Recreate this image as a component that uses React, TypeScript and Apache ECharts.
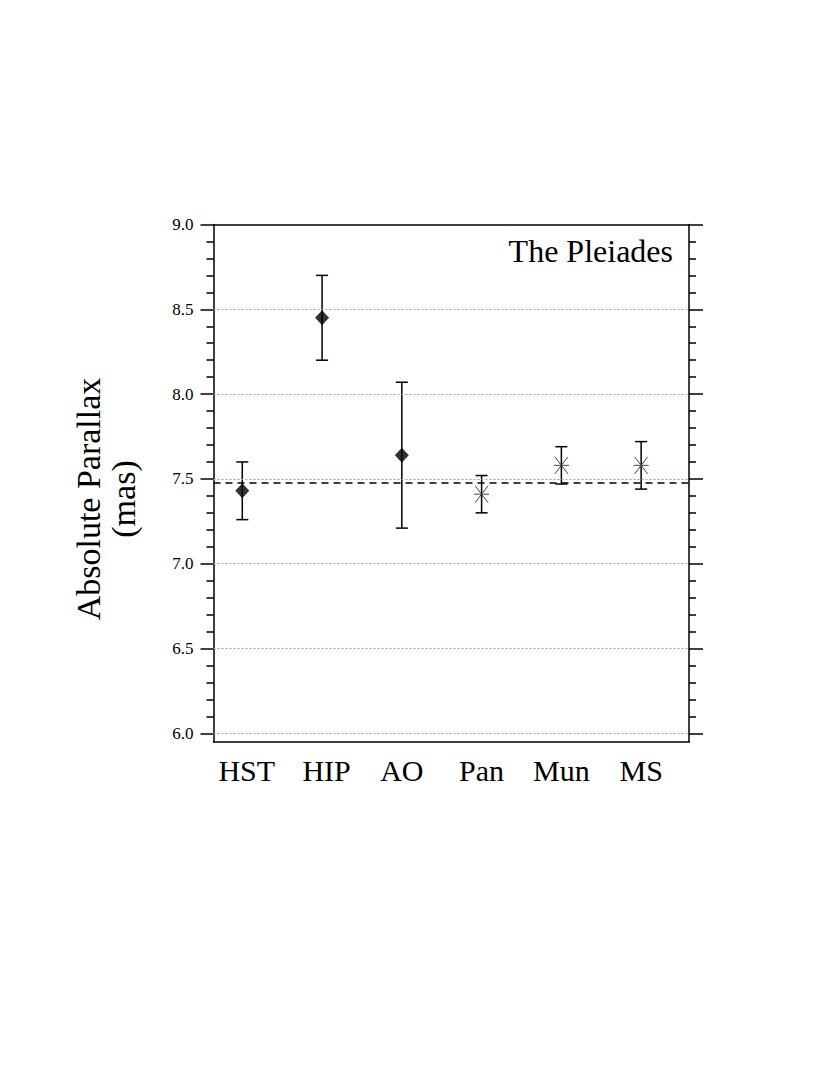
import React, { useEffect, useRef } from "react";
import * as echarts from "echarts";

const categories = ["HST", "HIP", "AO", "Pan", "Mun", "MS"];
const values = [7.43, 8.45, 7.64, 7.41, 7.58, 7.58];
const lows = [7.26, 8.2, 7.21, 7.3, 7.47, 7.44];
const highs = [7.6, 8.7, 8.07, 7.52, 7.69, 7.72];
const markers = ["diamond", "diamond", "diamond", "asterisk", "asterisk", "asterisk"];
const meanParallax = 7.48;
const majorTicks = [6.0, 6.5, 7.0, 7.5, 8.0, 8.5, 9.0];
const minorTicks = [6.1, 6.2, 6.3, 6.4, 6.6, 6.7, 6.8, 6.9, 7.1, 7.2, 7.3, 7.4, 7.6, 7.7, 7.8, 7.9, 8.1, 8.2, 8.3, 8.4, 8.6, 8.7, 8.8, 8.9];
const gridValues = [6.0, 6.5, 7.0, 7.5, 8.0, 8.5];

const FONT = "Liberation Serif";

export default function App() {
  const ref = useRef<HTMLDivElement>(null);
  useEffect(() => {
    const chart = echarts.init(ref.current!, null, { renderer: "svg" });
    const yMin = 5.949;
    const yMax = 9.0;
    const baseY = {
      type: "value",
      min: yMin,
      max: yMax,
      splitLine: { show: false },
      axisLabel: { show: false },
    };
    const idx = categories.map((_, i) => i);
    const diamondData = idx.filter((i) => markers[i] === "diamond").map((i) => [i, values[i]]);
    const asteriskData = idx.filter((i) => markers[i] === "asterisk").map((i) => [i, values[i]]);
    const errData = idx.map((i) => [i, lows[i], highs[i]]);
    const labelStyle = { fontFamily: FONT, fontSize: 30, color: "#000" };

    const option: any = {
      animation: false,
      backgroundColor: "#fff",
      textStyle: { fontFamily: FONT },
      grid: { left: 213.5, right: 141, top: 224.5, bottom: 333, containLabel: false },
      xAxis: [
        {
          type: "value",
          min: -0.361,
          max: 5.6,
          position: "bottom",
          axisLine: { show: true, onZero: false, lineStyle: { color: "#000", width: 1.5 } },
          axisTick: { show: false },
          splitLine: { show: false },
          axisLabel: {
            customValues: idx,
            formatter: (v: number) => {
              const i = Math.round(v);
              const name = categories[i] ?? "";
              return i < 2 ? `{s|${name}}` : `{n|${name}}`;
            },
            ...labelStyle,
            margin: 13,
            rich: {
              s: { ...labelStyle, padding: [0, 0, 0, 9] },
              n: { ...labelStyle },
            },
          },
        },
        {
          type: "value",
          min: -0.361,
          max: 5.6,
          position: "top",
          axisLine: { show: true, onZero: false, lineStyle: { color: "#000", width: 1.5 } },
          axisTick: { show: false },
          splitLine: { show: false },
          axisLabel: { show: false },
        },
      ],
      yAxis: [
        {
          ...baseY,
          position: "left",
          axisLine: { show: true, onZero: false, lineStyle: { color: "#000", width: 1.5 } },
          axisTick: { show: true, customValues: majorTicks, length: 13, lineStyle: { color: "#000", width: 1.5 } },
          axisLabel: {
            show: true,
            customValues: majorTicks,
            formatter: (v: number) => v.toFixed(1),
            fontFamily: FONT,
            fontSize: 17,
            color: "#000",
            margin: 20,
          },
        },
        {
          ...baseY,
          position: "left",
          axisLine: { show: false, onZero: false },
          axisTick: { show: true, customValues: minorTicks, length: 7, lineStyle: { color: "#000", width: 1.5 } },
        },
        {
          ...baseY,
          position: "right",
          axisLine: { show: true, onZero: false, lineStyle: { color: "#000", width: 1.5 } },
          axisTick: { show: true, customValues: majorTicks, length: 14, lineStyle: { color: "#000", width: 1.5 } },
        },
        {
          ...baseY,
          position: "right",
          axisLine: { show: false, onZero: false },
          axisTick: { show: true, customValues: minorTicks, length: 7, lineStyle: { color: "#000", width: 1.5 } },
        },
      ],
      graphic: [
        {
          type: "text",
          x: 106,
          y: 499,
          rotation: Math.PI / 2,
          style: {
            text: "Absolute Parallax\n(mas)",
            fontFamily: FONT,
            fontSize: 34,
            fill: "#000",
            align: "center",
            verticalAlign: "middle",
            lineHeight: 35,
          },
        },
        {
          type: "text",
          x: 673,
          y: 251,
          style: {
            text: "The Pleiades",
            fontFamily: FONT,
            fontSize: 32,
            fill: "#000",
            align: "right",
            verticalAlign: "middle",
          },
        },
      ],
      series: [
        {
          type: "line",
          data: [],
          xAxisIndex: 0,
          yAxisIndex: 0,
          markLine: {
            silent: true,
            symbol: "none",
            label: { show: false },
            lineStyle: { color: "#9a9af0", width: 1, type: [2, 2] },
            data: gridValues.map((v) => ({ yAxis: v })),
          },
        },
        {
          type: "line",
          data: [],
          xAxisIndex: 0,
          yAxisIndex: 0,
          markLine: {
            silent: true,
            symbol: "none",
            label: { show: false },
            lineStyle: { color: "#000", width: 1.5, type: [7, 5] },
            data: [{ yAxis: meanParallax }],
          },
        },
        {
          type: "custom",
          xAxisIndex: 0,
          yAxisIndex: 0,
          data: errData,
          renderItem: (params: any, api: any) => {
            const x = api.value(0);
            const lo = api.coord([x, api.value(1)]);
            const hi = api.coord([x, api.value(2)]);
            const cap = 6;
            const style = { stroke: "#000", lineWidth: 1.5 };
            return {
              type: "group",
              children: [
                { type: "line", shape: { x1: lo[0], y1: lo[1], x2: hi[0], y2: hi[1] }, style },
                { type: "line", shape: { x1: lo[0] - cap, y1: lo[1], x2: lo[0] + cap, y2: lo[1] }, style },
                { type: "line", shape: { x1: hi[0] - cap, y1: hi[1], x2: hi[0] + cap, y2: hi[1] }, style },
              ],
            };
          },
          z: 3,
        },
        {
          type: "scatter",
          xAxisIndex: 0,
          yAxisIndex: 0,
          data: diamondData,
          symbol: "diamond",
          symbolSize: [14, 15],
          itemStyle: { color: "#000" },
          z: 4,
        },
        {
          type: "custom",
          xAxisIndex: 0,
          yAxisIndex: 0,
          data: asteriskData,
          renderItem: (params: any, api: any) => {
            const c = api.coord([api.value(0), api.value(1)]);
            const hw = 7.5;
            const hh = 8.5;
            const style = { stroke: "#444", lineWidth: 1 };
            return {
              type: "group",
              children: [
                { type: "line", shape: { x1: c[0] - hw, y1: c[1], x2: c[0] + hw, y2: c[1] }, style },
                { type: "line", shape: { x1: c[0] - hw + 1, y1: c[1] - hh, x2: c[0] + hw - 1, y2: c[1] + hh }, style },
                { type: "line", shape: { x1: c[0] - hw + 1, y1: c[1] + hh, x2: c[0] + hw - 1, y2: c[1] - hh }, style },
              ],
            };
          },
          z: 4,
        },
      ],
    };
    chart.setOption(option);
    return () => chart.dispose();
  }, []);
  return (
    <div
      ref={ref}
      style={{ position: "absolute", left: 0, top: 0, width: 830, height: 1075, background: "#fff" }}
    />
  );
}
